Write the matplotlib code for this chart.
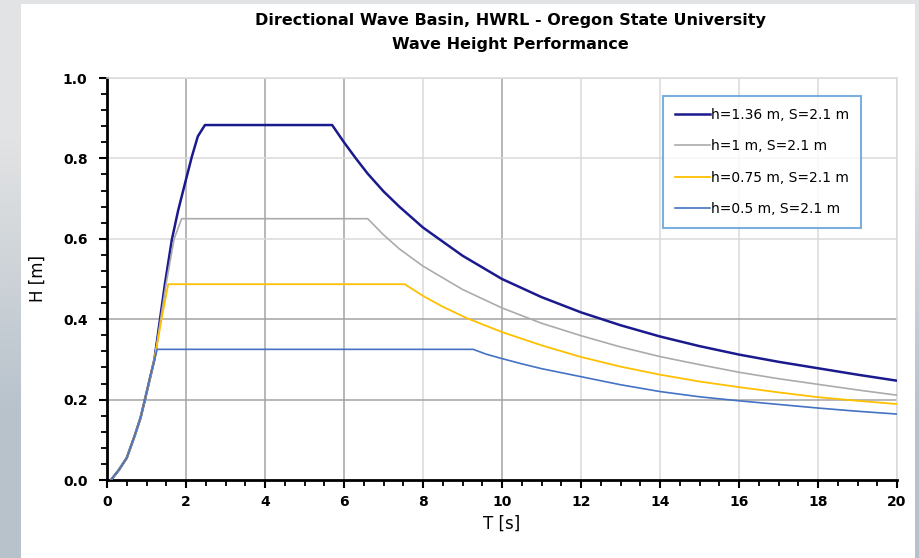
import matplotlib.pyplot as plt
from matplotlib.patches import Rectangle
from matplotlib.colors import LinearSegmentedColormap
from matplotlib.ticker import MultipleLocator

plt.rcParams['font.family'] = ['DejaVu Sans']

# wave period T [s] and wave height H [m]
t_136 = [0.1, 0.3, 0.5, 0.7, 0.85, 0.96, 1.2, 1.47, 1.64, 1.8, 1.98, 2.15, 2.3, 2.48,
         5.7, 6.0, 6.3, 6.6, 7.0, 7.4, 8.0, 9.0, 10, 11, 12, 13, 14, 15, 16, 17, 18, 19, 20]
h_136 = [0.0, 0.025, 0.055, 0.11, 0.155, 0.2, 0.3, 0.49, 0.597, 0.67, 0.74, 0.805, 0.855, 0.883,
         0.883, 0.84, 0.8, 0.762, 0.718, 0.68, 0.628, 0.558, 0.5, 0.455, 0.417, 0.385, 0.357,
         0.333, 0.312, 0.294, 0.278, 0.262, 0.247]

t_100 = [0.1, 0.3, 0.5, 0.7, 0.85, 0.96, 1.2, 1.5, 1.7, 1.89,
         6.6, 7.0, 7.4, 8.0, 9.0, 10, 11, 12, 13, 14, 15, 16, 17, 18, 19, 20]
h_100 = [0.0, 0.025, 0.055, 0.11, 0.155, 0.2, 0.3, 0.49, 0.6, 0.65,
         0.65, 0.61, 0.575, 0.532, 0.474, 0.428, 0.39, 0.359, 0.331, 0.307, 0.287, 0.268,
         0.252, 0.238, 0.224, 0.211]

t_075 = [0.1, 0.3, 0.5, 0.7, 0.85, 0.96, 1.2, 1.4, 1.55,
         7.54, 8.0, 8.5, 9.1, 10, 11, 12, 13, 14, 15, 16, 17, 18, 19, 20]
h_075 = [0.0, 0.025, 0.055, 0.11, 0.155, 0.2, 0.3, 0.41, 0.487,
         0.487, 0.458, 0.431, 0.403, 0.368, 0.335, 0.306, 0.282, 0.262, 0.245, 0.231, 0.218,
         0.206, 0.197, 0.189]

t_050 = [0.1, 0.3, 0.5, 0.7, 0.85, 0.96, 1.1, 1.27,
         9.27, 9.6, 10, 10.5, 11, 12, 13, 14, 15, 16, 17, 18, 19, 20]
h_050 = [0.0, 0.025, 0.055, 0.11, 0.155, 0.2, 0.26, 0.325,
         0.325, 0.313, 0.302, 0.289, 0.277, 0.257, 0.237, 0.22, 0.207, 0.197, 0.188, 0.179,
         0.171, 0.164]

labels = ["h=1.36 m, S=2.1 m", "h=1 m, S=2.1 m", "h=0.75 m, S=2.1 m", "h=0.5 m, S=2.1 m"]
colors = ["#1a1a8e", "#ababab", "#ffc000", "#4472c4"]

x_ticks = [0, 2, 4, 6, 8, 10, 12, 14, 16, 18, 20]
y_ticks = [0.0, 0.2, 0.4, 0.6, 0.8, 1.0]

fig = plt.figure(figsize=(9.2, 5.58), dpi=100)
fig.patch.set_facecolor('#dcdfe2')

# background: grey-blue strip on the left, white panel
bg = fig.add_axes([0, 0, 1, 1], zorder=-10)
bg.imshow([[0.0], [1.0]], cmap=LinearSegmentedColormap.from_list('bg', ['#e2e3e4', '#b7c2cb']),
          aspect='auto', interpolation='bilinear', extent=[0, 1, 0, 1])
bg.set_xlim(0, 1)
bg.set_ylim(0, 1)
bg.axis('off')
bg.add_patch(Rectangle((21 / 920, 0), (915 - 21) / 920, 1 - 4 / 558,
                       facecolor='white', edgecolor='none'))

ax = fig.add_axes([107 / 920, 1 - 480 / 558, 790 / 920, 402 / 558])
ax.set_facecolor('white')
ax.set_xlim(0, 20)
ax.set_ylim(0, 1.0)

# grid lines, some darker than others as in the original
dark_x = [2, 4, 6, 10]
for xv in x_ticks[1:]:
    ax.axvline(xv, color='#a3a3a3' if xv in dark_x else '#dadada', lw=1.1, zorder=0)
dark_y = [0.2, 0.4]
for yv in y_ticks[1:]:
    ax.axhline(yv, color='#a3a3a3' if yv in dark_y else '#dadada', lw=1.1, zorder=0)

ax.plot(t_136, h_136, color=colors[0], lw=1.8, label=labels[0], zorder=3)
ax.plot(t_100, h_100, color=colors[1], lw=1.2, label=labels[1], zorder=3)
ax.plot(t_075, h_075, color=colors[2], lw=1.3, label=labels[2], zorder=3)
ax.plot(t_050, h_050, color=colors[3], lw=1.2, label=labels[3], zorder=3)

ax.set_xticks(x_ticks)
ax.set_yticks(y_ticks)
ax.set_yticklabels([f"{v:.1f}" for v in y_ticks])
ax.xaxis.set_minor_locator(MultipleLocator(0.5))
ax.yaxis.set_minor_locator(MultipleLocator(0.04))
ax.tick_params(which='major', direction='out', length=6, width=1.5, labelsize=10)
ax.tick_params(axis='y', which='major', pad=8)
ax.tick_params(axis='x', which='major', pad=5)
ax.tick_params(which='minor', direction='out', length=4, width=1.3)
for lab in ax.get_xticklabels() + ax.get_yticklabels():
    lab.set_fontweight('bold')

for s in ['left', 'bottom']:
    ax.spines[s].set_color('black')
    ax.spines[s].set_linewidth(2)
for s in ['top', 'right']:
    ax.spines[s].set_color('#dadada')
    ax.spines[s].set_linewidth(1.1)

ax.set_xlabel("T [s]", fontsize=12, labelpad=4)
ax.set_ylabel("H [m]", fontsize=12, labelpad=12)

leg = ax.legend(loc='upper left', bbox_to_anchor=(0.704, 0.955), fontsize=10,
                frameon=True, fancybox=False, handlelength=2.5, handletextpad=0.1,
                labelspacing=1.25, borderpad=0.85, borderaxespad=0)
leg.get_frame().set_edgecolor('#5b9bd5')
leg.get_frame().set_linewidth(1.5)

fig.text(510 / 920, 1 - 20 / 558, "Directional Wave Basin, HWRL - Oregon State University",
         ha='center', va='center', fontsize=11.5, fontweight='bold')
fig.text(510 / 920, 1 - 44 / 558, "Wave Height Performance",
         ha='center', va='center', fontsize=11.5, fontweight='bold')

fig.savefig("out.png", dpi=100, facecolor=fig.get_facecolor())
